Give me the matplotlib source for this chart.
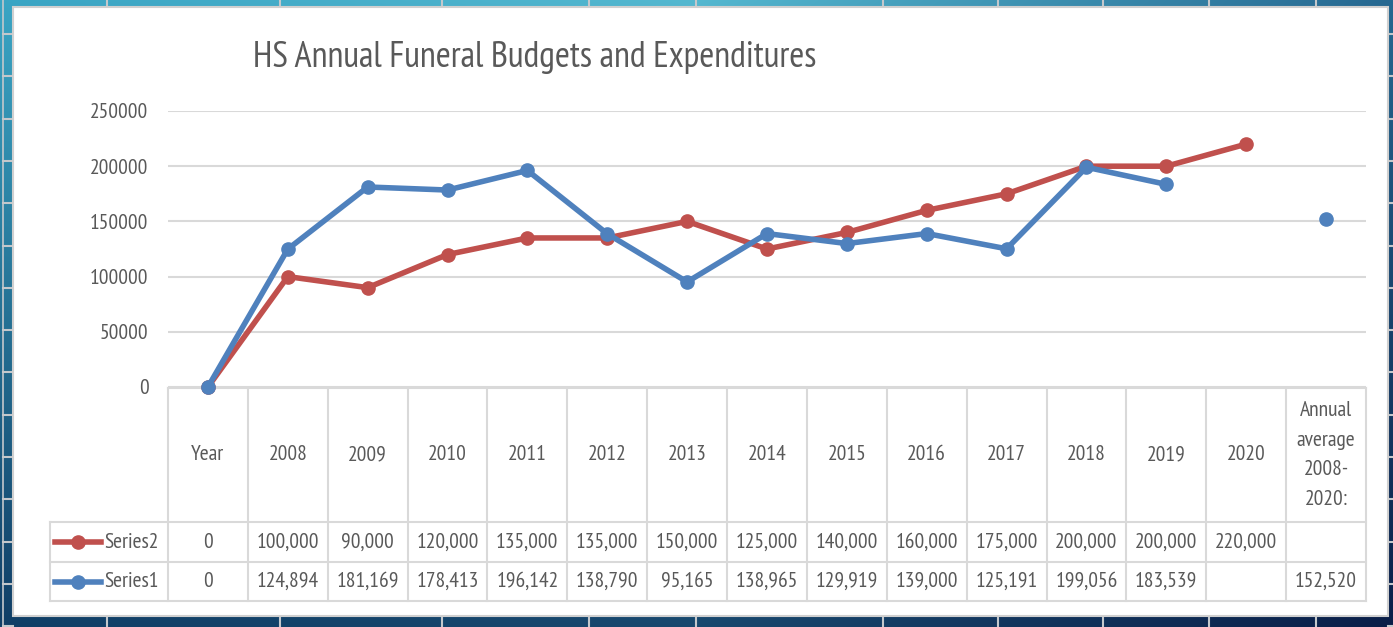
import numpy as np
import matplotlib
matplotlib.use('Agg')
import matplotlib.pyplot as plt
from matplotlib.patches import Rectangle

plt.rcParams['font.family'] = ['PT Sans Narrow', 'DejaVu Sans']

# data
title = "HS Annual Funeral Budgets and Expenditures"
categories = ['Year', '2008', '2009', '2010', '2011', '2012', '2013', '2014',
              '2015', '2016', '2017', '2018', '2019', '2020',
              'Annual\naverage\n2008-\n2020:']
series2 = [0, 100000, 90000, 120000, 135000, 135000, 150000, 125000,
           140000, 160000, 175000, 200000, 200000, 220000, None]
series1 = [0, 124894, 181169, 178413, 196142, 138790, 95165, 138965,
           129919, 139000, 125191, 199056, 183539, None, 152520]
yticks = [0, 50000, 100000, 150000, 200000, 250000]

red = '#c0504d'
blue = '#4f81bd'
txt = '#595959'
grid = '#d9d9d9'
fs = 15.5

W, H = 1393, 627
fig = plt.figure(figsize=(W / 100, H / 100), dpi=100)

# background with gradient tiles
bg = fig.add_axes([0, 0, 1, 1])
bg.set_xlim(0, W)
bg.set_ylim(H, 0)
bg.axis('off')

u = np.linspace(0, 1, W)
v = np.linspace(0, 1, H)[:, None, None]
top = np.stack([np.interp(u, [0, 0.5, 1], [c0, c1, c2]) for c0, c1, c2 in
                zip((58, 165, 196), (84, 184, 208), (38, 104, 145))], axis=-1)
bot = np.stack([np.interp(u, [0, 0.5, 1], [c0, c1, c2]) for c0, c1, c2 in
                zip((16, 62, 102), (24, 72, 110), (10, 30, 72))], axis=-1)
img = (top[None] * (1 - v) + bot[None] * v) / 255
bg.imshow(img, extent=[0, W, H, 0], aspect='auto', zorder=0)

tile = '#c4c8cc'
for yy in np.arange(34, H, 42.3):
    bg.plot([3, 13], [yy, yy], color=tile, lw=1.5, zorder=1)
    bg.plot([1388, W], [yy, yy], color=tile, lw=1.5, zorder=1)
bg.plot([3, 3], [0, H], color=tile, lw=1.2, zorder=1)
for xx in [107, 280, 442, 589, 696, 883, 998, 1103, 1209, 1316]:
    bg.plot([xx, xx], [0, 7], color=tile, lw=1.5, zorder=1)
    bg.plot([xx, xx], [616, H], color=tile, lw=1.5, zorder=1)

bg.add_patch(Rectangle((13, 7), 1375, 609, facecolor='white',
                       edgecolor='#d0d0d0', lw=1.5, zorder=2))

bg.text(253, 57, title, fontsize=26, color=txt, ha='left', va='center', zorder=3)

# plot area
left, right, ytop, ybot = 168, 1366, 111, 387
ax = fig.add_axes([left / W, (H - ybot) / H, (right - left) / W, (ybot - ytop) / H])
ax.patch.set_alpha(0)
n = len(categories)
x = np.arange(n) + 0.5
s1 = np.array([np.nan if s is None else s for s in series1], dtype=float)
s2 = np.array([np.nan if s is None else s for s in series2], dtype=float)
ax.plot(x, s2, color=red, lw=4, marker='o', ms=9.5, clip_on=False, zorder=3)
ax.plot(x, s1, color=blue, lw=4, marker='o', ms=9.5, clip_on=False, zorder=4)
ax.set_xlim(0, n)
ax.set_ylim(0, 250000)
ax.set_yticks(yticks)
ax.set_yticklabels([str(t) for t in yticks], fontsize=fs, color=txt)
ax.set_xticks([])
ax.tick_params(axis='y', length=0, pad=14)
ax.yaxis.grid(True, color=grid, lw=1.5)
ax.set_axisbelow(True)
for s in ax.spines.values():
    s.set_visible(False)

# data table
colw = (right - left) / n
t_top, h_bot, r1_bot, r2_bot, leg_left = 388, 522, 562, 601, 50
bg.plot([left, right], [t_top, t_top], color=grid, lw=1.5, zorder=3)
for yy in [h_bot, r1_bot, r2_bot]:
    bg.plot([leg_left, right], [yy, yy], color=grid, lw=1.5, zorder=3)
for i in range(n + 1):
    bg.plot([left + i * colw] * 2, [t_top, r2_bot], color=grid, lw=1.5, zorder=3)
bg.plot([leg_left, leg_left], [h_bot, r2_bot], color=grid, lw=1.5, zorder=3)

for i, c in enumerate(categories):
    cx = left + (i + 0.5) * colw
    bg.text(cx, (t_top + h_bot) / 2, c, fontsize=fs, color=txt, ha='center',
            va='center', linespacing=1.72, zorder=4)

rows = [('Series2', series2, red, (h_bot + r1_bot) / 2),
        ('Series1', series1, blue, (r1_bot + r2_bot) / 2)]
for name, vals, col, cy in rows:
    bg.plot([55, 101], [cy, cy], color=col, lw=4, zorder=4)
    bg.plot([78], [cy], marker='o', ms=9.5, color=col, zorder=4)
    bg.text(104, cy, name, fontsize=fs, color=txt, ha='left', va='center', zorder=4)
    for i, val in enumerate(vals):
        if val is None:
            continue
        cx = left + (i + 0.5) * colw
        bg.text(cx, cy, f"{val:,}", fontsize=fs, color=txt, ha='center',
                va='center', zorder=4)

fig.savefig('out.png', dpi=100)
